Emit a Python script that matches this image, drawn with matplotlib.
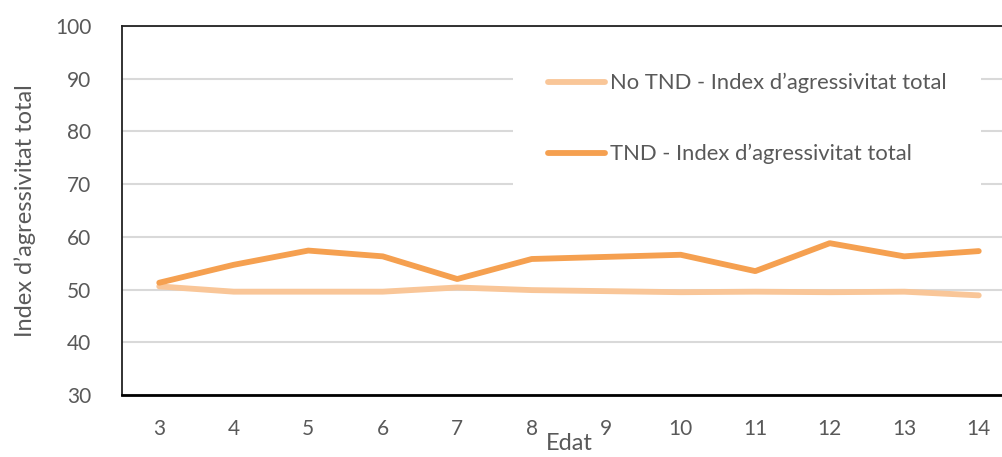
import matplotlib
matplotlib.use("Agg")
import matplotlib.pyplot as plt

ages = [3, 4, 5, 6, 7, 8, 9, 10, 11, 12, 13, 14]
no_tnd = [50.6, 49.6, 49.6, 49.6, 50.4, 49.9, 49.7, 49.5, 49.6, 49.5, 49.6, 48.9]
tnd = [51.3, 54.7, 57.4, 56.3, 52.0, 55.8, 56.2, 56.6, 53.5, 58.8, 56.3, 57.3]
labels = ["No TND - Index d\u2019agressivitat total", "TND - Index d\u2019agressivitat total"]
yticks = [30, 40, 50, 60, 70, 80, 90, 100]

plt.rcParams['font.family'] = ['Lato', 'DejaVu Sans']
grey = '#595959'

fig = plt.figure(figsize=(10.03, 4.57), dpi=100)
ax = fig.add_axes([122/1003, 1-395/457, 894/1003, (395-26)/457])

x = list(range(len(ages)))
ax.plot(x, no_tnd, color='#F9C698', lw=4.2, solid_capstyle='round', label=labels[0], zorder=3)
ax.plot(x, tnd, color='#F5A050', lw=4.2, solid_capstyle='round', label=labels[1], zorder=4)

ax.set_xlim(-0.5, len(ages) - 0.5)
ax.set_ylim(30, 100)
ax.set_yticks(yticks)
ax.set_xticks(x)
ax.set_xticklabels([str(a) for a in ages])
ax.grid(axis='y', color='#D9D9D9', lw=1.5, zorder=0)
ax.set_axisbelow(True)
ax.tick_params(length=0, labelsize=15, labelcolor=grey)
ax.tick_params(axis='y', pad=22)
ax.tick_params(axis='x', pad=17)
for s in ['left', 'top']:
    ax.spines[s].set_color('#222222')
    ax.spines[s].set_linewidth(1.3)
ax.spines['bottom'].set_color('black')
ax.spines['bottom'].set_linewidth(2.0)
ax.spines['right'].set_visible(False)

ax.set_xlabel('Edat', fontsize=17, color=grey, labelpad=-4)
ax.set_ylabel('Index d\u2019agressivitat total', fontsize=17, color=grey, labelpad=14)

leg = ax.legend(loc='upper left', bbox_to_anchor=((513-122)/894, (395-38)/369),
                fontsize=15.8, frameon=True, facecolor='white', edgecolor='none',
                framealpha=1, fancybox=False, borderpad=1.6, handlelength=2.6,
                handletextpad=0.2, labelspacing=2.3, borderaxespad=0)
for t in leg.get_texts():
    t.set_color(grey)
leg.set_zorder(5)

fig.savefig('out.png', dpi=100)
